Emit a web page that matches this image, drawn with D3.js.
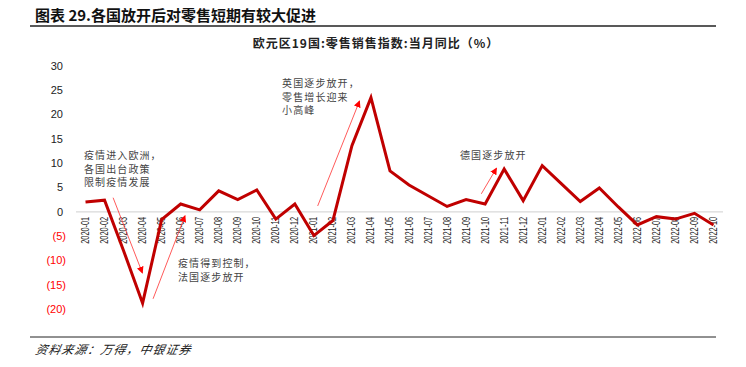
<!DOCTYPE html>
<html>
<head>
<meta charset="utf-8">
<script src="https://cdn.jsdelivr.net/npm/d3@7"></script>
<style>
  body { margin: 0; background: #fff; }
  svg { display: block; }
</style>
</head>
<body>
<div id="chart"></div>
<script>
const months = [
  "2020-01", "2020-02", "2020-03", "2020-04", "2020-05", "2020-06", "2020-07",
  "2020-08", "2020-09", "2020-10", "2020-11", "2020-12", "2021-01", "2021-02",
  "2021-03", "2021-04", "2021-05", "2021-06", "2021-07", "2021-08", "2021-09",
  "2021-10", "2021-11", "2021-12", "2022-01", "2022-02", "2022-03", "2022-04",
  "2022-05", "2022-06", "2022-07", "2022-08", "2022-09", "2022-10"
];
const retailYoY = [
  2.0, 2.4, -8.0, -18.8, -1.6, 1.6, 0.4,
  4.3, 2.5, 4.5, -1.5, 1.6, -4.9, -1.8,
  13.6, 23.5, 8.4, 5.5, 3.3, 1.1, 2.5,
  1.6, 8.8, 2.3, 9.5, 5.8, 2.1, 4.9,
  1.0, -2.7, -1.0, -1.5, -0.3, -2.7
];
const yTicks = [30, 25, 20, 15, 10, 5, 0, -5, -10, -15, -20];

// notes: text lines anchored at (month index, value), arrows from/to in same units
const notes = [
  { i: -0.08, v: 11.5, lines: ["疫情进入欧洲，", "各国出台政策", "限制疫情发展"] },
  { i: 4.86, v: -10.7, lines: ["疫情得到控制，", "法国逐步放开"] },
  { i: 10.33, v: 26.3, lines: ["英国逐步放开，", "零售增长迎来", "小高峰"] },
  { i: 19.68, v: 11.5, lines: ["德国逐步放开"] }
];
const arrows = [
  { i0: 1.45, v0: 2.9, i1: 2.99, v1: -12.6 },
  { i0: 3.55, v0: -17.9, i1: 5.23, v1: -0.8 },
  { i0: 12.2, v0: 1.2, i1: 14.4, v1: 22.8 },
  { i0: 20.8, v0: 3.7, i1: 21.6, v1: 9.0 }
];

const W = 746, H = 367;
const red = "#c00000";

const svg = d3.select("#chart").append("svg")
  .attr("width", W).attr("height", H)
  .style("background", "#fff");

// header / footer
svg.append("text")
  .attr("x", 35).attr("y", 21)
  .attr("font-family", "'Noto Sans CJK SC'")
  .attr("font-weight", "bold")
  .attr("font-size", 15)
  .attr("fill", "#111")
  .text("图表 29.各国放开后对零售短期有较大促进");
svg.append("line")
  .attr("x1", 30).attr("x2", 716).attr("y1", 26).attr("y2", 26)
  .attr("stroke", "#222").attr("stroke-width", 1.5);

svg.append("line")
  .attr("x1", 30).attr("x2", 716).attr("y1", 337).attr("y2", 337)
  .attr("stroke", "#222").attr("stroke-width", 1);
svg.append("text")
  .attr("x", 35).attr("y", 354)
  .attr("font-family", "'Noto Sans CJK SC'")
  .attr("font-style", "italic")
  .attr("font-size", 12)
  .attr("letter-spacing", 1)
  .attr("fill", "#222")
  .attr("transform", "skewX(-12) translate(75,0)")
  .text("资料来源：万得，中银证券");

svg.append("text")
  .attr("x", 376).attr("y", 48)
  .attr("text-anchor", "middle")
  .attr("font-family", "'Noto Sans CJK SC'")
  .attr("font-weight", "bold")
  .attr("font-size", 12)
  .attr("letter-spacing", 1)
  .attr("fill", "#222")
  .text("欧元区19国:零售销售指数:当月同比（%）");

// scales
const x = d3.scaleBand().domain(months).range([76, 723]).padding(0);
const y = d3.scaleLinear().domain([-20, 30]).range([309, 66]);
const xi = (i) => x(months[0]) + x.bandwidth() * (i + 0.5);

// y labels
svg.append("g")
  .selectAll("text")
  .data(yTicks)
  .join("text")
  .attr("x", (d) => (d < 0 ? 66 : 63))
  .attr("y", (d) => y(d))
  .attr("dy", "0.35em")
  .attr("text-anchor", "end")
  .attr("font-family", "'Liberation Sans', Arial")
  .attr("font-size", 11)
  .attr("fill", (d) => (d < 0 ? "#ff0000" : "#222"))
  .text((d) => (d < 0 ? "(" + -d + ")" : d));

// zero axis
svg.append("line")
  .attr("x1", x.range()[0]).attr("x2", x.range()[1])
  .attr("y1", y(0)).attr("y2", y(0))
  .attr("stroke", "#d9d9d9").attr("stroke-width", 1.2);

// x labels
svg.append("g")
  .selectAll("text")
  .data(months)
  .join("text")
  .attr("transform", (d) => `translate(${x(d) + x.bandwidth() / 2 + 3.5},${y(0) + 5}) rotate(-90)`)
  .attr("text-anchor", "end")
  .attr("font-family", "'Liberation Sans', Arial")
  .attr("font-size", 10)
  .attr("textLength", 27)
  .attr("lengthAdjust", "spacingAndGlyphs")
  .attr("fill", "#222")
  .text((d) => d);

// line
const line = d3.line()
  .x((d, i) => x(months[i]) + x.bandwidth() / 2)
  .y((d) => y(d));
svg.append("path")
  .datum(retailYoY)
  .attr("d", line)
  .attr("fill", "none")
  .attr("stroke", red)
  .attr("stroke-width", 3)
  .attr("stroke-linejoin", "miter");

// arrows
svg.append("defs").append("marker")
  .attr("id", "head")
  .attr("viewBox", "0 0 10 10")
  .attr("refX", 9).attr("refY", 5)
  .attr("markerWidth", 7).attr("markerHeight", 7)
  .attr("markerUnits", "userSpaceOnUse")
  .attr("orient", "auto")
  .append("path")
  .attr("d", "M0,0L10,5L0,10z")
  .attr("fill", "#ff0000");

svg.append("g")
  .selectAll("line")
  .data(arrows)
  .join("line")
  .attr("x1", (d) => xi(d.i0)).attr("y1", (d) => y(d.v0))
  .attr("x2", (d) => xi(d.i1)).attr("y2", (d) => y(d.v1))
  .attr("stroke", "#ff3030")
  .attr("stroke-width", 0.8)
  .attr("marker-end", "url(#head)");

// notes
svg.append("g")
  .selectAll("text")
  .data(notes)
  .join("text")
  .attr("font-family", "'Noto Sans CJK SC'")
  .attr("font-size", 10)
  .attr("letter-spacing", 1.1)
  .attr("fill", "#444")
  .each(function (d) {
    d3.select(this)
      .selectAll("tspan")
      .data(d.lines)
      .join("tspan")
      .attr("x", xi(d.i))
      .attr("y", (t, k) => y(d.v) + k * 13.5)
      .attr("dy", "0.35em")
      .text((t) => t);
  });
</script>
</body>
</html>
